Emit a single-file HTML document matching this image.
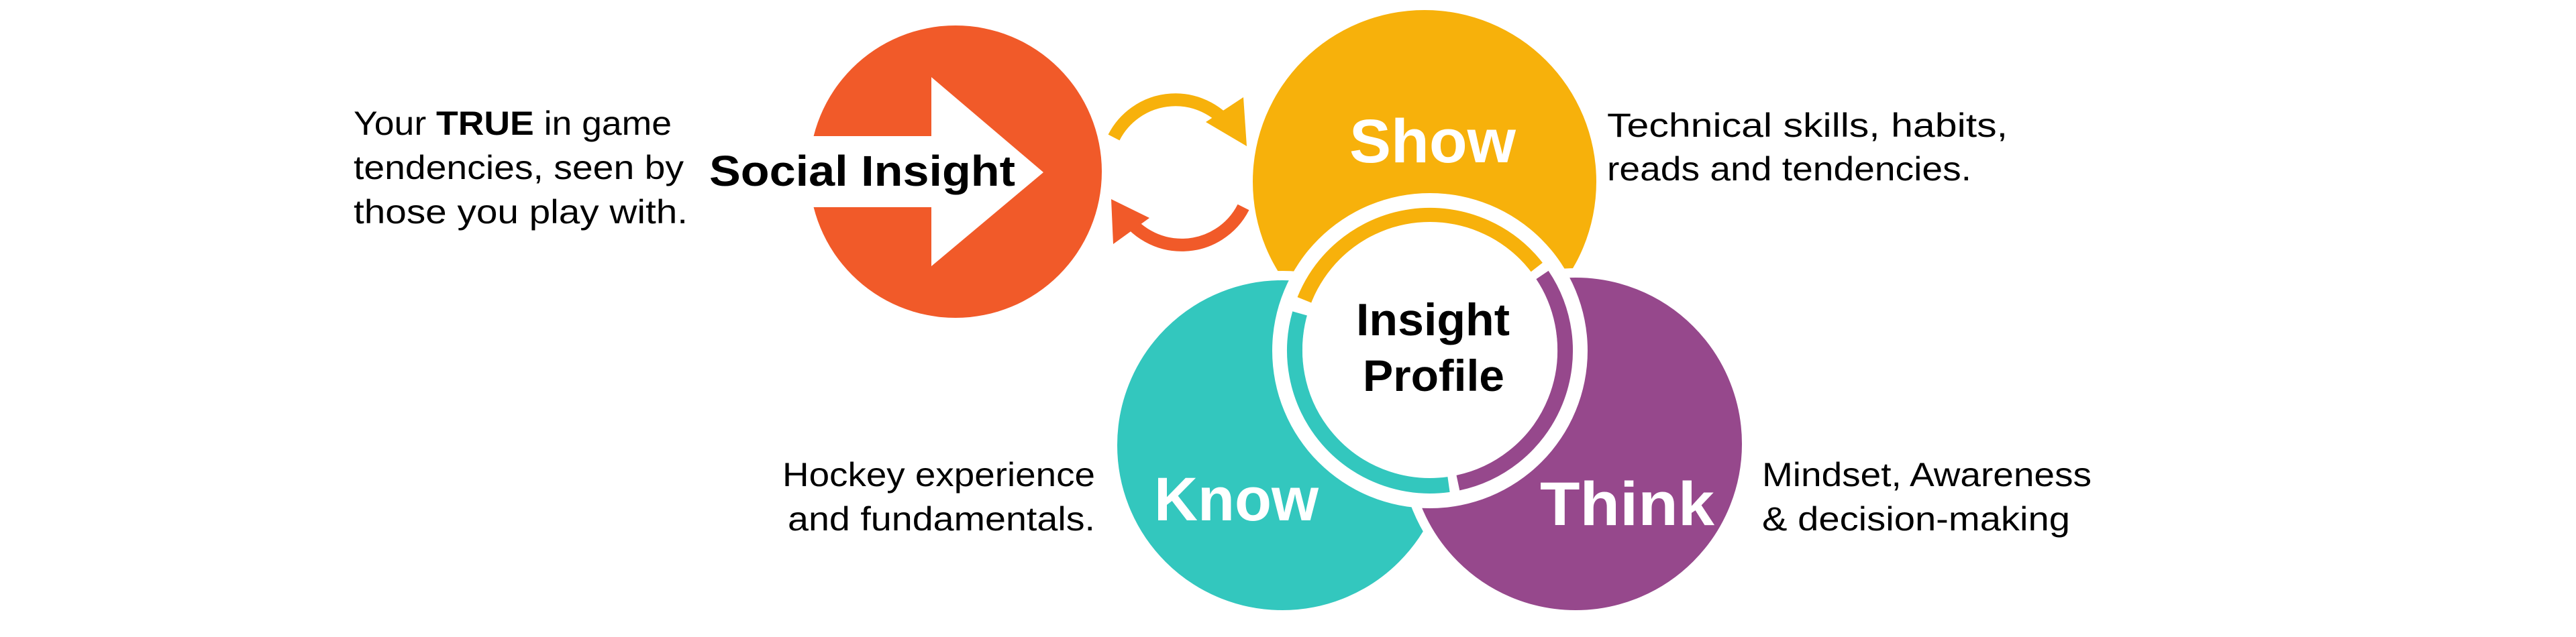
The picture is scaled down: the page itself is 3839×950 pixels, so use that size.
<!DOCTYPE html>
<html><head><meta charset="utf-8"><style>
html,body{margin:0;padding:0;background:#fff;}
svg{display:block;}
text{font-family:"Liberation Sans",sans-serif;}
</style></head><body>
<svg width="3839" height="950" viewBox="0 0 3839 950" xmlns="http://www.w3.org/2000/svg">
<rect width="3839" height="950" fill="#fff"/>
<!-- Social insight circle -->
<circle cx="1424" cy="256" r="218" fill="#F15A29"/>
<polygon points="1200,203 1388,203 1388,115 1555,257 1388,397 1388,309 1200,309" fill="#fff"/>
<text x="1057" y="277" font-size="64" font-weight="bold" fill="#000" textLength="456" lengthAdjust="spacingAndGlyphs">Social Insight</text>
<!-- cycle arrows -->
<path d="M1660,205 A103,103 0 0 1 1837,194" fill="none" stroke="#F7B10B" stroke-width="19"/>
<polygon points="1797,182 1853,145 1858,218" fill="#F7B10B"/>
<path d="M1853,309 A103,103 0 0 1 1672,314" fill="none" stroke="#F15A29" stroke-width="19"/>
<polygon points="1713,325 1656,297 1659,364" fill="#F15A29"/>
<!-- venn circles -->
<circle cx="2123" cy="271" r="256" fill="#F7B10B"/>
<circle cx="1911" cy="664" r="253" fill="#33C7BE" stroke="#fff" stroke-width="14"/>
<circle cx="2348" cy="662" r="255" fill="#96488C" stroke="#fff" stroke-width="14"/>
<!-- center -->
<circle cx="2131" cy="523" r="235" fill="#fff"/>
<path d="M1944.2,447.4 A201.5,201.5 0 0 1 2289.8,398.9" fill="none" stroke="#F7B10B" stroke-width="23"/>
<path d="M2298.1,410.3 A201.5,201.5 0 0 1 2172.9,720.1" fill="none" stroke="#96488C" stroke-width="23"/>
<path d="M2159,722.5 A201.5,201.5 0 0 1 1937.3,467.5" fill="none" stroke="#33C7BE" stroke-width="23"/>
<circle cx="2131" cy="521" r="190" fill="#fff"/>
<text x="2021" y="500" font-size="68" font-weight="bold" fill="#000" textLength="229" lengthAdjust="spacingAndGlyphs">Insight</text>
<text x="2031" y="583" font-size="66" font-weight="bold" fill="#000" textLength="211" lengthAdjust="spacingAndGlyphs">Profile</text>
<!-- labels -->
<text x="2011" y="242" font-size="92" font-weight="bold" fill="#fff" textLength="248" lengthAdjust="spacingAndGlyphs">Show</text>
<text x="1720" y="776" font-size="92" font-weight="bold" fill="#fff" textLength="245" lengthAdjust="spacingAndGlyphs">Know</text>
<text x="2295" y="783" font-size="92" font-weight="bold" fill="#fff" textLength="260" lengthAdjust="spacingAndGlyphs">Think</text>
<!-- side texts -->
<g font-size="50" fill="#000">
<text x="527" y="201" textLength="474" lengthAdjust="spacingAndGlyphs">Your <tspan font-weight="bold">TRUE</tspan> in game</text>
<text x="527" y="267" textLength="492" lengthAdjust="spacingAndGlyphs">tendencies, seen by</text>
<text x="527" y="333" textLength="498" lengthAdjust="spacingAndGlyphs">those you play with.</text>
<text x="2395" y="204" textLength="597" lengthAdjust="spacingAndGlyphs">Technical skills, habits,</text>
<text x="2395" y="269" textLength="543" lengthAdjust="spacingAndGlyphs">reads and tendencies.</text>
<text x="1166" y="725" textLength="466" lengthAdjust="spacingAndGlyphs">Hockey experience</text>
<text x="1174" y="791" textLength="458" lengthAdjust="spacingAndGlyphs">and fundamentals.</text>
<text x="2626" y="725" textLength="491" lengthAdjust="spacingAndGlyphs">Mindset, Awareness</text>
<text x="2626" y="791" textLength="459" lengthAdjust="spacingAndGlyphs">&amp; decision-making</text>
</g>
</svg>
</body></html>
